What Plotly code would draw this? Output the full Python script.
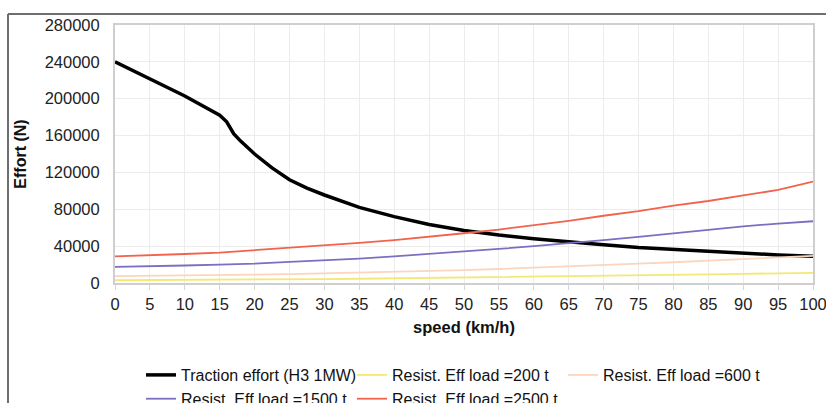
import plotly.graph_objects as go

speed = [0, 5, 10, 15, 20, 25, 30, 35, 40, 45, 50, 55, 60, 65, 70, 75, 80, 85, 90, 95, 100]

traction_speed = [0, 5, 10, 15, 16, 17, 18, 20, 22.5, 25, 27.5, 30, 35, 40, 45, 50, 55, 60, 65, 70, 75, 80, 85, 90, 95, 100]
traction = [240000, 222000, 203000, 182000, 175000, 162000, 154000, 140000, 125000, 112000, 103000, 95500,
            82000, 72000, 63500, 57000, 52000, 48000, 44500, 41500, 38500, 36500, 34000, 32000, 30500, 29000]

load_200 = [3000, 3100, 3300, 3500, 3800, 4000, 4300, 4600, 5000, 5400, 5800, 6300, 6800, 7300, 7800,
            8300, 8900, 9400, 10000, 10500, 11000]
load_600 = [7500, 7700, 8000, 8500, 9000, 9700, 10500, 11200, 12000, 13000, 14000, 15200, 16500, 18000,
            19500, 21000, 22500, 24200, 26000, 27800, 29500]
load_1500 = [17500, 18000, 19000, 20000, 21000, 23000, 24500, 26500, 29000, 31500, 34000, 37000, 40000,
             43000, 46500, 50000, 54000, 57500, 61500, 64500, 67000]
load_2500 = [29000, 30000, 31500, 33000, 35500, 38000, 40500, 43500, 46500, 50000, 54000, 58000, 62500,
             67500, 73000, 78000, 84000, 89000, 95000, 101000, 110000]

names = ["Traction effort (H3 1MW)", "Resist. Eff load =200 t", "Resist. Eff load =600 t",
         "Resist. Eff load =1500 t", "Resist. Eff load =2500 t"]
colors = ["#000000", "#f3e873", "#fbd6bc", "#7a6fc0", "#f2624c"]

yticks = [0, 40000, 80000, 120000, 160000, 200000, 240000, 280000]
xticks = list(range(0, 101, 5))

FONT = "Liberation Sans, Arial, sans-serif"

fig = go.Figure()
fig.add_trace(go.Scatter(x=traction_speed, y=traction, mode="lines", name=names[0],
                         line=dict(color=colors[0], width=3.5)))
for ys, nm, c in zip([load_200, load_600, load_1500, load_2500], names[1:], colors[1:]):
    fig.add_trace(go.Scatter(x=speed, y=ys, mode="lines", name=nm, line=dict(color=c, width=1.8)))

W, H = 826, 403
L, R, T, B = 115, 13, 25, 120
pw, ph = W - L - R, H - T - B

def px2x(p):
    return (p - L) / pw

def py2y(p):
    return (H - B - p) / ph

fig.update_layout(
    width=W, height=H,
    margin=dict(l=L, r=R, t=T, b=B, autoexpand=False),
    paper_bgcolor="white", plot_bgcolor="white",
    font=dict(family=FONT, size=16, color="#222"),
    showlegend=True,
    legend=dict(orientation="h", xref="container", yref="container",
                x=141 / W, xanchor="left", y=(H - 358) / H, yanchor="top",
                entrywidth=166, entrywidthmode="pixels", font=dict(size=16, color="#111"),
                bgcolor="rgba(0,0,0,0)", tracegroupgap=0, itemwidth=30),
    xaxis=dict(range=[0, 100], tickvals=xticks, ticktext=[str(v) for v in xticks],
               showgrid=True, gridcolor="#ececec", gridwidth=1,
               showline=True, linecolor="#cfcfcf", linewidth=2, mirror=True,
               ticks="outside", ticklen=5, tickcolor="#d6d6d6", ticklabeloverflow="allow",
               tickfont=dict(size=16.5, color="#222"), zeroline=False,
               title=dict(text="<b>speed (km/h)</b>", font=dict(size=16.5, color="#111"), standoff=10)),
    yaxis=dict(range=[0, 280000], tickvals=yticks, ticktext=[str(v) for v in yticks],
               showgrid=True, gridcolor="#ececec", gridwidth=1,
               showline=True, linecolor="#cfcfcf", linewidth=2, mirror=True,
               ticks="outside", ticklen=10, tickcolor="rgba(0,0,0,0)",
               tickfont=dict(size=16.5, color="#222"), zeroline=False,
               title=dict(text="<b>Effort (N)</b>", font=dict(size=16, color="#111"), standoff=14)),
    shapes=[
        dict(type="line", xref="paper", yref="paper", x0=px2x(8), x1=px2x(830), y0=py2y(14), y1=py2y(14),
             line=dict(color="#6e6e6e", width=2)),
        dict(type="line", xref="paper", yref="paper", x0=px2x(8), x1=px2x(8), y0=py2y(14), y1=py2y(410),
             line=dict(color="#6e6e6e", width=2)),
    ],
)

fig.write_html("out.html", config={"displayModeBar": False},
               post_script="document.body.style.margin='0';document.body.style.overflow='hidden';")
